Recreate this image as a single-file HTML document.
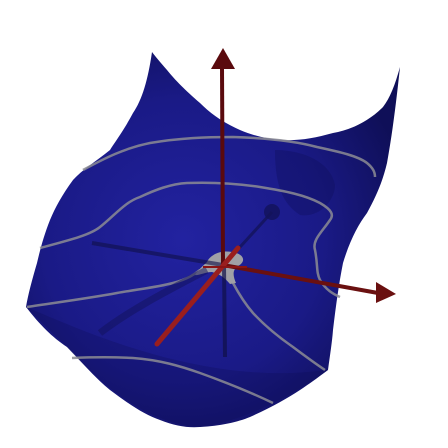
<!DOCTYPE html>
<html><head><meta charset="utf-8"><style>
html,body{margin:0;padding:0;background:#fff;width:448px;height:448px;overflow:hidden}
</style></head><body>
<svg width="448" height="448" viewBox="0 0 448 448">
<defs>
<radialGradient id="sg" cx="0.42" cy="0.5" r="0.62">
<stop offset="0" stop-color="#2222a0"/>
<stop offset="0.6" stop-color="#1a1a86"/>
<stop offset="1" stop-color="#0f0f58"/>
</radialGradient>
</defs>
<path fill="url(#sg)" d="M152,52 C148,80 142,100 133,113 C124,130 115,142 110,150 C95,162 82,170 73,180 C62,195 55,208 50,220 C44,235 40,250 37,263 C32,280 28,295 26,307 C40,325 52,337 67,347 C82,362 95,378 110,390 C130,405 145,415 160,420 C175,426 188,428 200,427 C220,426 238,422 250,417 C270,408 288,398 300,390 C312,382 320,376 328,370 C330,355 332,343 333,330 C336,305 339,283 343,263 C350,240 358,225 367,213 C377,195 383,180 387,163 C393,130 397,95 400,67 C395,85 390,98 383,107 C368,122 350,130 333,133 C315,138 298,141 283,140 C265,139 252,135 240,130 C222,122 210,113 200,103 C185,90 175,80 167,70 C160,62 155,56 152,52 Z"/>
<path fill="#0f0f5a" opacity="0.35" d="M275,150 C300,150 330,160 335,185 C335,200 320,218 300,215 C285,205 275,190 275,150 Z"/>
<path fill="#0c0c50" opacity="0.25" d="M26,307 C80,330 150,360 230,370 C280,376 310,372 328,370 C300,390 250,420 200,427 C150,425 100,385 67,347 Z"/>
<g fill="none" stroke="#8c8c94" stroke-width="2.5" opacity="0.85">
<path d="M40,248 C70,240 90,235 100,227 C115,215 125,202 140,197 C155,190 170,184 187,183 C215,182 240,184 260,187 C285,191 305,195 320,203 C332,210 334,215 330,220 C322,232 312,240 315,250 C318,265 316,272 320,280 C326,290 333,294 340,297"/>
<path d="M83,170 C105,158 125,148 150,143 C180,138 205,137 233,137 C265,138 295,141 317,147 C340,152 358,156 367,163 C373,168 375,172 375,177"/>
<path d="M27,307 C60,302 90,298 117,293 C140,289 158,287 173,283 C188,279 195,274 200,270"/>
<path d="M233,283 C240,296 246,305 253,313 C265,326 280,338 293,347 C305,356 316,364 325,370"/>
<path d="M72,358 C95,357 115,357 133,358 C160,360 180,366 200,373 C225,382 250,392 273,403"/>
</g>
<path fill="#a0a0a6" d="M207,262 C210,255 220,250 232,252 C245,254 246,262 238,266 C232,270 233,276 236,283 L230,284 C225,278 220,274 212,272 C205,272 198,276 195,275 C198,270 203,266 207,262 Z"/>
<path fill="none" stroke="#12125a" stroke-width="7" opacity="0.5" d="M100,333 C130,310 165,292 207,270"/>
<g>
<line x1="92" y1="243" x2="223" y2="265" stroke="#101048" stroke-width="4" opacity="0.6"/>
<line x1="224" y1="265" x2="225" y2="357" stroke="#101048" stroke-width="4" opacity="0.7"/>
<line x1="230" y1="258" x2="272" y2="212" stroke="#101048" stroke-width="3" opacity="0.6"/>
<circle cx="272" cy="212" r="8" fill="#13135a" opacity="0.8"/>
<line x1="223" y1="265" x2="222" y2="67" stroke="#5a0a0e" stroke-width="4"/>
<polygon points="211,69 235,69 223,48" fill="#5a0a0e"/>
<line x1="223" y1="265" x2="378" y2="293" stroke="#6a1010" stroke-width="4"/>
<polygon points="376,282 376,303 396,294" fill="#6a1010"/>
<line x1="238" y1="248" x2="157" y2="344" stroke="#9a1e1e" stroke-width="5" stroke-linecap="round"/>
<line x1="203" y1="267" x2="247" y2="267" stroke="#8a1414" stroke-width="2"/>
</g>
</svg>
</body></html>
